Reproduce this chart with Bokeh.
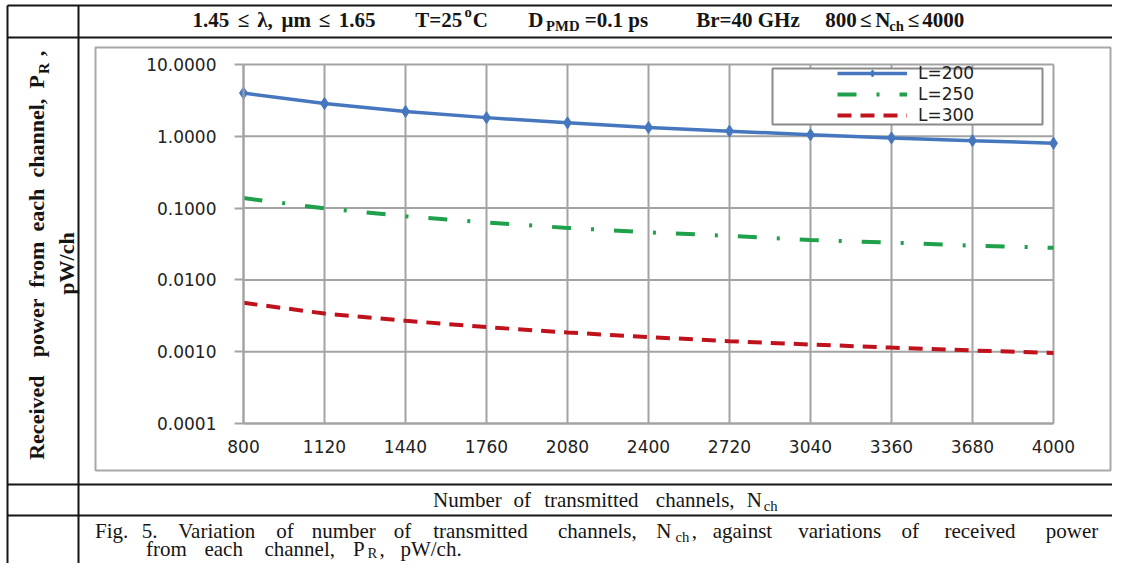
import math
from bokeh.plotting import figure
from bokeh.models import (Range1d, LogScale, LinearAxis, LogAxis, FixedTicker,
                          Legend, LegendItem, ColumnDataSource)
from bokeh.core.properties import value, field
from bokeh.embed import file_html
from bokeh.resources import INLINE

# ---------------- data ----------------
channels = [800, 1120, 1440, 1760, 2080, 2400, 2720, 3040, 3360, 3680, 4000]
power_L200 = [4.00, 2.86, 2.22, 1.82, 1.54, 1.33, 1.18, 1.05, 0.95, 0.87, 0.80]
power_L250 = [0.138, 0.099, 0.077, 0.063, 0.053, 0.046, 0.041, 0.036, 0.033, 0.030, 0.028]
power_L300 = [0.0048, 0.0034, 0.0027, 0.0022, 0.00185, 0.0016, 0.0014, 0.00126, 0.00114, 0.00104, 0.00096]
series_names = ["L=200", "L=250", "L=300"]
x_tick_values = [800, 1120, 1440, 1760, 2080, 2400, 2720, 3040, 3360, 3680, 4000]
x_tick_labels = ["800", "1120", "1440", "1760", "2080", "2400", "2720", "3040", "3360", "3680", "4000"]
y_tick_values = [0.0001, 0.001, 0.01, 0.1, 1.0, 10.0]
y_tick_labels = ["0.0001", "0.0010", "0.0100", "0.1000", "1.0000", "10.0000"]

header_groups = [
    [("1.45 ≤ λ, μm ≤ 1.65", "n")],
    [("T=25", "n"), ("o", "sup"), ("C", "n")],
    [("D", "n"), ("PMD", "sub"), ("=0.1\u00a0ps", "n")],
    [("Br=40\u00a0GHz", "n")],
    [("800 ≤ N", "n"), ("ch", "sub"), (" ≤ 4000", "n")],
]
y_label_line1 = [("Received  power from each channel, P", "n"), ("R", "sub"), (" ,", "n")]
y_label_line2 = [("pW/ch", "n")]
x_label = [("Number of transmitted channels, N", "n"), ("ch", "sub")]
caption_line1 = [("Fig. 5. Variation of number of transmitted channels, N", "n"), ("ch", "sub"),
                 (", against variations of  received  power", "n")]
caption_line2 = [("from each channel, P", "n"), ("R", "sub"), (", pW/ch.", "n")]

# ---------------- layout constants (pixels on the canvas) ----------------
W, H = 1112, 563
PX0, PX1 = 243, 1053      # plot area left/right
PY0, PY1 = 64, 423        # plot area top/bottom
GRID = "#A3A3A3"
INK = "#151515"

# approximate Times widths (1/1000 em) used only to spread words like the justified original
TR = {' ': 250, '\u00a0': 250, ',': 250, '.': 250, '/': 278, '=': 564, '≤': 549, 'λ': 549, 'μ': 500, '°': 400}
TB = {' ': 250, '\u00a0': 250, ',': 250, '.': 250, '/': 278, '=': 570, '≤': 549, 'λ': 549, 'μ': 556, '°': 400}
for d in "0123456789":
    TR[d] = 500
    TB[d] = 500
TR.update(dict(zip("ABCDEFGHIJKLMNOPQRSTUVWXYZ",
                   [722, 667, 667, 722, 611, 556, 722, 722, 333, 389, 722, 611, 889, 722, 722, 556, 722, 667, 556, 611, 722, 722, 944, 722, 722, 611])))
TR.update(dict(zip("abcdefghijklmnopqrstuvwxyz",
                   [444, 500, 444, 500, 444, 333, 500, 500, 278, 278, 500, 278, 778, 500, 500, 500, 500, 333, 389, 278, 500, 500, 722, 500, 500, 444])))
TB.update(dict(zip("ABCDEFGHIJKLMNOPQRSTUVWXYZ",
                   [722, 667, 722, 722, 667, 611, 778, 778, 389, 500, 778, 667, 944, 722, 778, 611, 778, 722, 556, 667, 722, 722, 1000, 722, 722, 667])))
TB.update(dict(zip("abcdefghijklmnopqrstuvwxyz",
                   [500, 556, 444, 556, 444, 333, 500, 556, 278, 333, 556, 278, 833, 556, 500, 556, 556, 444, 389, 333, 556, 500, 722, 500, 500, 444])))


def em_width(s, bold):
    tbl = TB if bold else TR
    return sum(tbl.get(ch, 500) for ch in s) / 1000.0


txt = dict(x=[], y=[], text=[], size=[], style=[], angle=[])


def layout_line(segs, start, base, size, bold, end=None, scale=None, vertical=False, sub_off=0.33):
    items = []
    cum = 0.0
    for text, kind in segs:
        f = 1.0 if kind == "n" else 0.7
        word = ""
        for ch in text + "\0":
            if ch in (" ", "\0"):
                if word:
                    w = em_width(word, bold) * f
                    items.append((word, kind, cum, w))
                    cum += w
                    word = ""
                if ch == " ":
                    cum += em_width(" ", bold) * f
            else:
                word += ch
    if scale is None:
        scale = (end - start) / cum
    for word, kind, s0, w in items:
        c = start + (s0 + w / 2.0) * scale
        fs = size if kind == "n" else size * 0.7
        off = 0.0
        if kind == "sub":
            off = sub_off * size
        elif kind == "sup":
            off = -0.38 * size
        if vertical:
            txt["x"].append(base + off)
            txt["y"].append(c)
            txt["angle"].append(math.pi / 2)
        else:
            txt["x"].append(c)
            txt["y"].append(base + off)
            txt["angle"].append(0.0)
        txt["text"].append(word)
        txt["size"].append("%.1fpx" % fs)
        txt["style"].append("bold" if bold else "normal")
    return scale


# ---------------- figure ----------------
p = figure(width=W, height=H, x_range=Range1d(0, W), y_range=Range1d(H, 0),
           x_axis_type=None, y_axis_type=None, min_border=0,
           toolbar_location=None, output_backend="svg", outline_line_color=None,
           background_fill_color="white", border_fill_color="white")

ax = (x_tick_values[-1] - x_tick_values[0]) / (PX1 - PX0)
p.extra_x_ranges = {"nx": Range1d(x_tick_values[0] - PX0 * ax, x_tick_values[-1] + (W - PX1) * ax)}
lo, hi = math.log10(y_tick_values[0]), math.log10(y_tick_values[-1])
dy = (hi - lo) / (PY1 - PY0)
p.extra_y_ranges = {"py": Range1d(10 ** (lo - (H - PY1) * dy), 10 ** (hi + PY0 * dy))}
p.extra_y_scales = {"py": LogScale()}
R = dict(x_range_name="nx", y_range_name="py")

# table rules and chart box (decoration, canvas pixels)
p.segment(x0=[7, 7, 7, 7], y0=[5, 37, 484, 515], x1=[W, W, W, W], y1=[5, 37, 484, 515],
          line_color=INK, line_width=2)
p.segment(x0=[7, 78], y0=[5, 5], x1=[7, 78], y1=[H, H], line_color=INK, line_width=2)
p.quad(left=[95], right=[1110], top=[47], bottom=[470], fill_color=None,
       line_color="#A8A8A8", line_width=2)

# gridlines from the tick arrays
nx_, ny_ = len(x_tick_values), len(y_tick_values)
p.segment(x0=x_tick_values, y0=[y_tick_values[0]] * nx_, x1=x_tick_values, y1=[y_tick_values[-1]] * nx_,
          line_color=GRID, line_width=2, **R)
p.segment(x0=[x_tick_values[0]] * ny_, y0=y_tick_values, x1=[x_tick_values[-1]] * ny_, y1=y_tick_values,
          line_color=GRID, line_width=2, **R)

# series
r200 = p.line(channels, power_L200, line_color="#4677BE", line_width=3.5, **R)
s200 = p.scatter(channels, power_L200, marker="diamond", size=12, fill_color="#4677BE",
                 line_color="#4677BE", **R)
r250 = p.line(channels, power_L250, line_color="#1FA04A", line_width=4, line_dash="19 20 3 20", **R)
r300 = p.line(channels, power_L300, line_color="#C0121C", line_width=4, line_dash="14 9", **R)

# legend box
p.quad(left=[772], right=[1042], top=[68], bottom=[124], fill_color="white",
       line_color="#8A8A8A", line_width=2)

# axes
xaxis = LinearAxis(fixed_location=y_tick_values[0], bounds=(x_tick_values[0], x_tick_values[-1]),
                   ticker=FixedTicker(ticks=x_tick_values),
                   major_label_overrides={v: s for v, s in zip(x_tick_values, x_tick_labels)},
                   axis_line_color=GRID, axis_line_width=2,
                   major_tick_out=0, major_tick_in=0, minor_tick_out=0, minor_tick_in=0,
                   major_label_standoff=16, major_label_text_font="DejaVu Sans",
                   major_label_text_font_size="17px", major_label_text_color="#222222", **R)
p.add_layout(xaxis, "below")
yaxis = LogAxis(fixed_location=x_tick_values[0], bounds=(y_tick_values[0], y_tick_values[-1]),
                ticker=FixedTicker(ticks=y_tick_values),
                major_label_overrides={v: s for v, s in zip(y_tick_values, y_tick_labels)},
                axis_line_color=GRID, axis_line_width=2,
                major_tick_out=9, major_tick_in=0, major_tick_line_color=GRID, major_tick_line_width=2,
                minor_tick_out=0, minor_tick_in=0,
                major_label_standoff=18, major_label_text_font="DejaVu Sans",
                major_label_text_font_size="17px", major_label_text_color="#222222", **R)
p.add_layout(yaxis, "left")

legend = Legend(items=[LegendItem(label=series_names[0], renderers=[r200, s200]),
                       LegendItem(label=series_names[1], renderers=[r250]),
                       LegendItem(label=series_names[2], renderers=[r300])],
                location=(837, H - 125), orientation="vertical", padding=0, margin=0, spacing=1,
                glyph_width=70, glyph_height=18, label_height=18, label_standoff=11,
                label_text_font="DejaVu Sans", label_text_font_size="17px",
                label_text_color="#222222", background_fill_alpha=0, border_line_alpha=0)
p.add_layout(legend)

# texts
header_extents = [(190, 377), (413, 488), (527, 651), (700, 795), (826, 962)]
for segs, (a, b) in zip(header_groups, header_extents):
    layout_line(segs, a, 19, 21, True, end=b)
layout_line(y_label_line1, 463, 36, 22, True, end=50, vertical=True)
layout_line(y_label_line2, 288, 66, 22, True, end=238, vertical=True)
layout_line(x_label, 428, 499, 21, False, end=778)
sc = layout_line(caption_line1, 90, 530, 21, False, end=1105)
layout_line(caption_line2, 140, 548, 21, False, scale=sc, sub_off=0.22)

p.text(x="x", y="y", text="text", angle="angle", source=ColumnDataSource(txt),
       text_font=value("Liberation Serif"), text_font_size=field("size"),
       text_font_style=field("style"), text_align="center", text_baseline="middle",
       text_color=INK)

open("out.html", "w").write(file_html(p, INLINE))
